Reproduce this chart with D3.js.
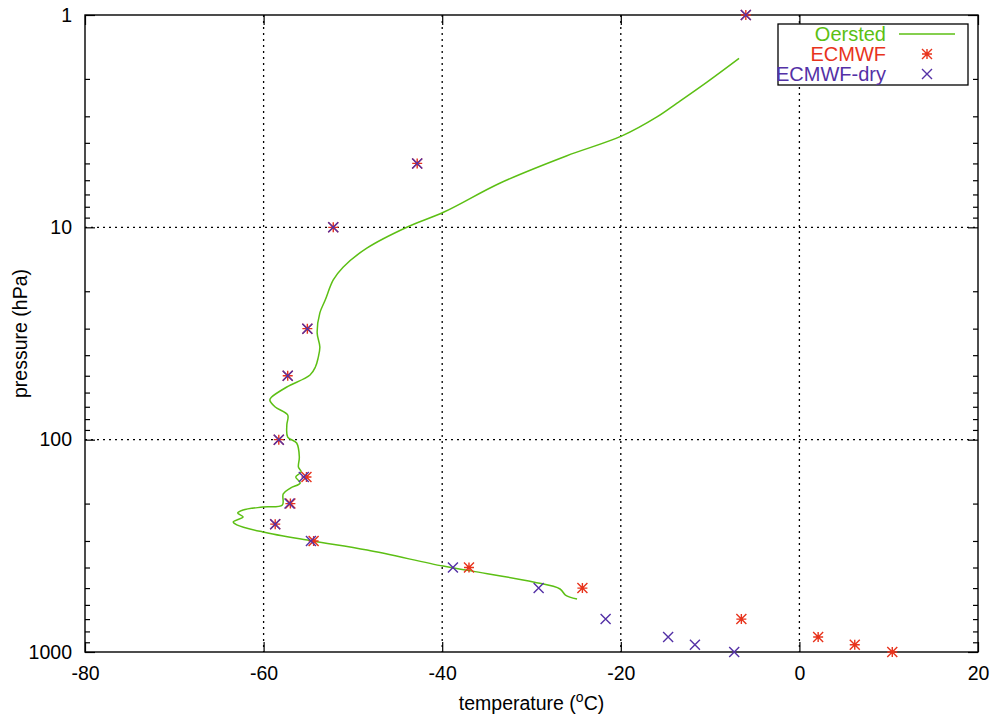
<!DOCTYPE html>
<html>
<head>
<meta charset="utf-8">
<script src="https://cdn.jsdelivr.net/npm/d3@7"></script>
<style>
  body { margin: 0; background: #fff; }
  svg { display: block; font-family: "Liberation Sans", Arial, sans-serif; }
  .axis path { display: none; }
  .axis line { stroke: #000; stroke-width: 1.2; }
  .axis text { font-size: 19.5px; fill: #000; font-family: "Liberation Sans", Arial, sans-serif; }
</style>
</head>
<body>
<svg width="1002" height="715"></svg>
<script>
// --- data ---------------------------------------------------------------
var xTicks = [ -80, -60, -40, -20, 0, 20 ];
var yTicks = [ 1, 10, 100, 1000 ];
var xGrid = [ -60, -40, -20, 0 ];
var yGrid = [ 10, 100 ];

// ECMWF levels (hPa)
var ecmwfP    = [ 1, 5, 10, 30, 50, 100, 150, 200, 250, 300, 400, 500, 700, 850, 925, 1000 ];
var ecmwfT    = [ -6.0, -42.8, -52.2, -55.1, -57.3, -58.3, -55.2, -57.0, -58.7, -54.4, -37.0, -24.3, -6.5, 2.1, 6.2, 10.4 ];
var ecmwfDryT = [ -6.0, -42.8, -52.2, -55.1, -57.3, -58.3, -55.5, -57.1, -58.7, -54.7, -38.8, -29.2, -21.7, -14.7, -11.7, -7.3 ];

// Oersted profile
var oerstedP = [ 1.6, 2.07, 2.6, 3.02, 3.71, 4.61, 6.18, 8.47, 9.96, 12.5, 15.4, 17.7, 22.0,
  25.3, 31.5, 36.6, 41.3, 45.5, 49.6, 56.5, 63.0, 65.1, 70.2, 76.5, 85.3, 97.2, 103.7, 120.7,
  134.5, 142.0, 150, 160, 169, 180, 203, 207.6, 214.5, 221.5, 231, 244, 252, 272, 300, 331,
  394, 416, 468, 505, 539, 563 ];
var oerstedT = [ -6.76, -10.35, -13.7, -15.95, -19.87, -26.1, -33.5, -39.8, -43.9, -48.4, -51.1, -52.2, -53.1,
  -53.7, -54.0, -53.7, -53.9, -54.2, -54.8, -57.4, -59.1, -59.3, -58.7, -57.3, -57.4, -57.3, -56.3, -56.0,
  -56.1, -55.8, -56.4, -55.9, -57.0, -57.8, -57.9, -60.1, -62.3, -62.9, -62.3, -63.4, -63.0, -60.1, -54.5, -48.4,
  -39.9, -36.6, -29.8, -26.8, -26.2, -24.9 ];

var colors = { oersted: '#5cbf14', ecmwf: '#e8331c', dry: '#5431a6' };

// --- layout -------------------------------------------------------------
var padL = 85, padR = 978, padT = 15, padB = 652;
var svg = d3.select( 'svg' );

var x = d3.scaleLinear().domain( [ -80, 20 ] ).range( [ padL, padR ] );
var y = d3.scaleLog().domain( [ 1, 1000 ] ).range( [ padT, padB ] );
var plain = function( d ) { return String( d ); };

var minorY = [];
[ 1, 10, 100 ].forEach( function( d ) {
	for ( var k = 2; k <= 9; k++ ) minorY.push( d * k );
} );

// grid
svg.append( 'g' ).selectAll( 'line' ).data( xGrid ).enter().append( 'line' )
	.attr( 'x1', function( d ) { return x( d ); } ).attr( 'x2', function( d ) { return x( d ); } )
	.attr( 'y1', padT ).attr( 'y2', padB )
	.attr( 'stroke', '#000' ).attr( 'stroke-width', 1.3 ).attr( 'stroke-dasharray', '2,4' );
svg.append( 'g' ).selectAll( 'line' ).data( yGrid ).enter().append( 'line' )
	.attr( 'y1', function( d ) { return y( d ); } ).attr( 'y2', function( d ) { return y( d ); } )
	.attr( 'x1', padL ).attr( 'x2', padR )
	.attr( 'stroke', '#000' ).attr( 'stroke-width', 1.3 ).attr( 'stroke-dasharray', '2,4' );

// axes
svg.append( 'g' ).attr( 'class', 'axis' ).attr( 'transform', 'translate(0,' + padB + ')' )
	.call( d3.axisBottom( x ).tickValues( xTicks ).tickSizeInner( -10 ).tickSizeOuter( 0 ).tickPadding( 14 ).tickFormat( plain ) );
svg.append( 'g' ).attr( 'class', 'axis' ).attr( 'transform', 'translate(0,' + padT + ')' )
	.call( d3.axisTop( x ).tickValues( xTicks ).tickSizeInner( -10 ).tickSizeOuter( 0 ).tickFormat( '' ) );
svg.append( 'g' ).attr( 'class', 'axis' ).attr( 'transform', 'translate(' + padL + ',0)' )
	.call( d3.axisLeft( y ).tickValues( yTicks ).tickSizeInner( -10 ).tickSizeOuter( 0 ).tickPadding( 13 ).tickFormat( plain ) );
svg.append( 'g' ).attr( 'class', 'axis' ).attr( 'transform', 'translate(' + padR + ',0)' )
	.call( d3.axisRight( y ).tickValues( yTicks ).tickSizeInner( -10 ).tickSizeOuter( 0 ).tickFormat( '' ) );
svg.append( 'g' ).attr( 'class', 'axis' ).attr( 'transform', 'translate(' + padL + ',0)' )
	.call( d3.axisLeft( y ).tickValues( minorY ).tickSizeInner( -5 ).tickSizeOuter( 0 ).tickFormat( '' ) );
svg.append( 'g' ).attr( 'class', 'axis' ).attr( 'transform', 'translate(' + padR + ',0)' )
	.call( d3.axisRight( y ).tickValues( minorY ).tickSizeInner( -5 ).tickSizeOuter( 0 ).tickFormat( '' ) );

// frame
svg.append( 'rect' ).attr( 'x', padL ).attr( 'y', padT )
	.attr( 'width', padR - padL ).attr( 'height', padB - padT )
	.attr( 'fill', 'none' ).attr( 'stroke', '#000' ).attr( 'stroke-width', 1.4 );

// axis titles
svg.append( 'text' ).attr( 'transform', 'translate(27,' + ( ( padT + padB ) / 2 ) + ') rotate(-90)' )
	.attr( 'text-anchor', 'middle' ).attr( 'font-size', 19.5 ).text( 'pressure (hPa)' );
var xt = svg.append( 'text' ).attr( 'x', ( padL + padR ) / 2 ).attr( 'y', 710 )
	.attr( 'text-anchor', 'middle' ).attr( 'font-size', 19.5 );
xt.append( 'tspan' ).text( 'temperature (' );
xt.append( 'tspan' ).attr( 'dy', -8 ).attr( 'font-size', 14 ).text( 'o' );
xt.append( 'tspan' ).attr( 'dy', 8 ).text( 'C)' );

// Oersted line
var oersted = oerstedP.map( function( p, i ) { return { p: p, t: oerstedT[ i ] }; } );
svg.append( 'path' ).datum( oersted )
	.attr( 'fill', 'none' ).attr( 'stroke', colors.oersted ).attr( 'stroke-width', 1.5 )
	.attr( 'd', d3.line()
		.x( function( d ) { return x( d.t ); } )
		.y( function( d ) { return y( d.p ); } )
		.curve( d3.curveCatmullRom.alpha( 0.5 ) ) );

// markers
var s = 5;
function star( g, cx, cy ) {
	g.append( 'path' ).attr( 'transform', 'translate(' + cx + ',' + cy + ')' )
		.attr( 'd', 'M' + ( -s ) + ',0H' + s + 'M0,' + ( -s ) + 'V' + s +
			'M' + ( -s ) + ',' + ( -s ) + 'L' + s + ',' + s + 'M' + ( -s ) + ',' + s + 'L' + s + ',' + ( -s ) );
}
function cross( g, cx, cy ) {
	g.append( 'path' ).attr( 'transform', 'translate(' + cx + ',' + cy + ')' )
		.attr( 'd', 'M' + ( -s ) + ',' + ( -s ) + 'L' + s + ',' + s + 'M' + ( -s ) + ',' + s + 'L' + s + ',' + ( -s ) );
}

var gRed = svg.append( 'g' ).attr( 'stroke', colors.ecmwf ).attr( 'stroke-width', 1.4 ).attr( 'fill', 'none' );
ecmwfP.forEach( function( p, i ) { star( gRed, x( ecmwfT[ i ] ), y( p ) ); } );
var gBlue = svg.append( 'g' ).attr( 'stroke', colors.dry ).attr( 'stroke-width', 1.4 ).attr( 'fill', 'none' );
ecmwfP.forEach( function( p, i ) { cross( gBlue, x( ecmwfDryT[ i ] ), y( p ) ); } );

// legend
var lg = svg.append( 'g' );
lg.append( 'rect' ).attr( 'x', 778 ).attr( 'y', 24 ).attr( 'width', 190 ).attr( 'height', 61 )
	.attr( 'fill', '#fff' ).attr( 'stroke', '#000' ).attr( 'stroke-width', 1.3 );
var entries = [
	{ name: 'Oersted', color: colors.oersted, kind: 'line' },
	{ name: 'ECMWF', color: colors.ecmwf, kind: 'star' },
	{ name: 'ECMWF-dry', color: colors.dry, kind: 'cross' }
];
entries.forEach( function( e, i ) {
	var cy = 34 + i * 20;
	lg.append( 'text' ).attr( 'x', 886 ).attr( 'y', cy + 7 ).attr( 'text-anchor', 'end' )
		.attr( 'font-size', 20 ).attr( 'fill', e.color ).text( e.name );
	if ( e.kind === 'line' ) {
		lg.append( 'line' ).attr( 'x1', 899 ).attr( 'x2', 955 ).attr( 'y1', cy ).attr( 'y2', cy )
			.attr( 'stroke', e.color ).attr( 'stroke-width', 1.5 );
	} else {
		var g = lg.append( 'g' ).attr( 'stroke', e.color ).attr( 'stroke-width', 1.4 ).attr( 'fill', 'none' );
		( e.kind === 'star' ? star : cross )( g, 927, cy );
	}
} );
</script>
</body>
</html>
